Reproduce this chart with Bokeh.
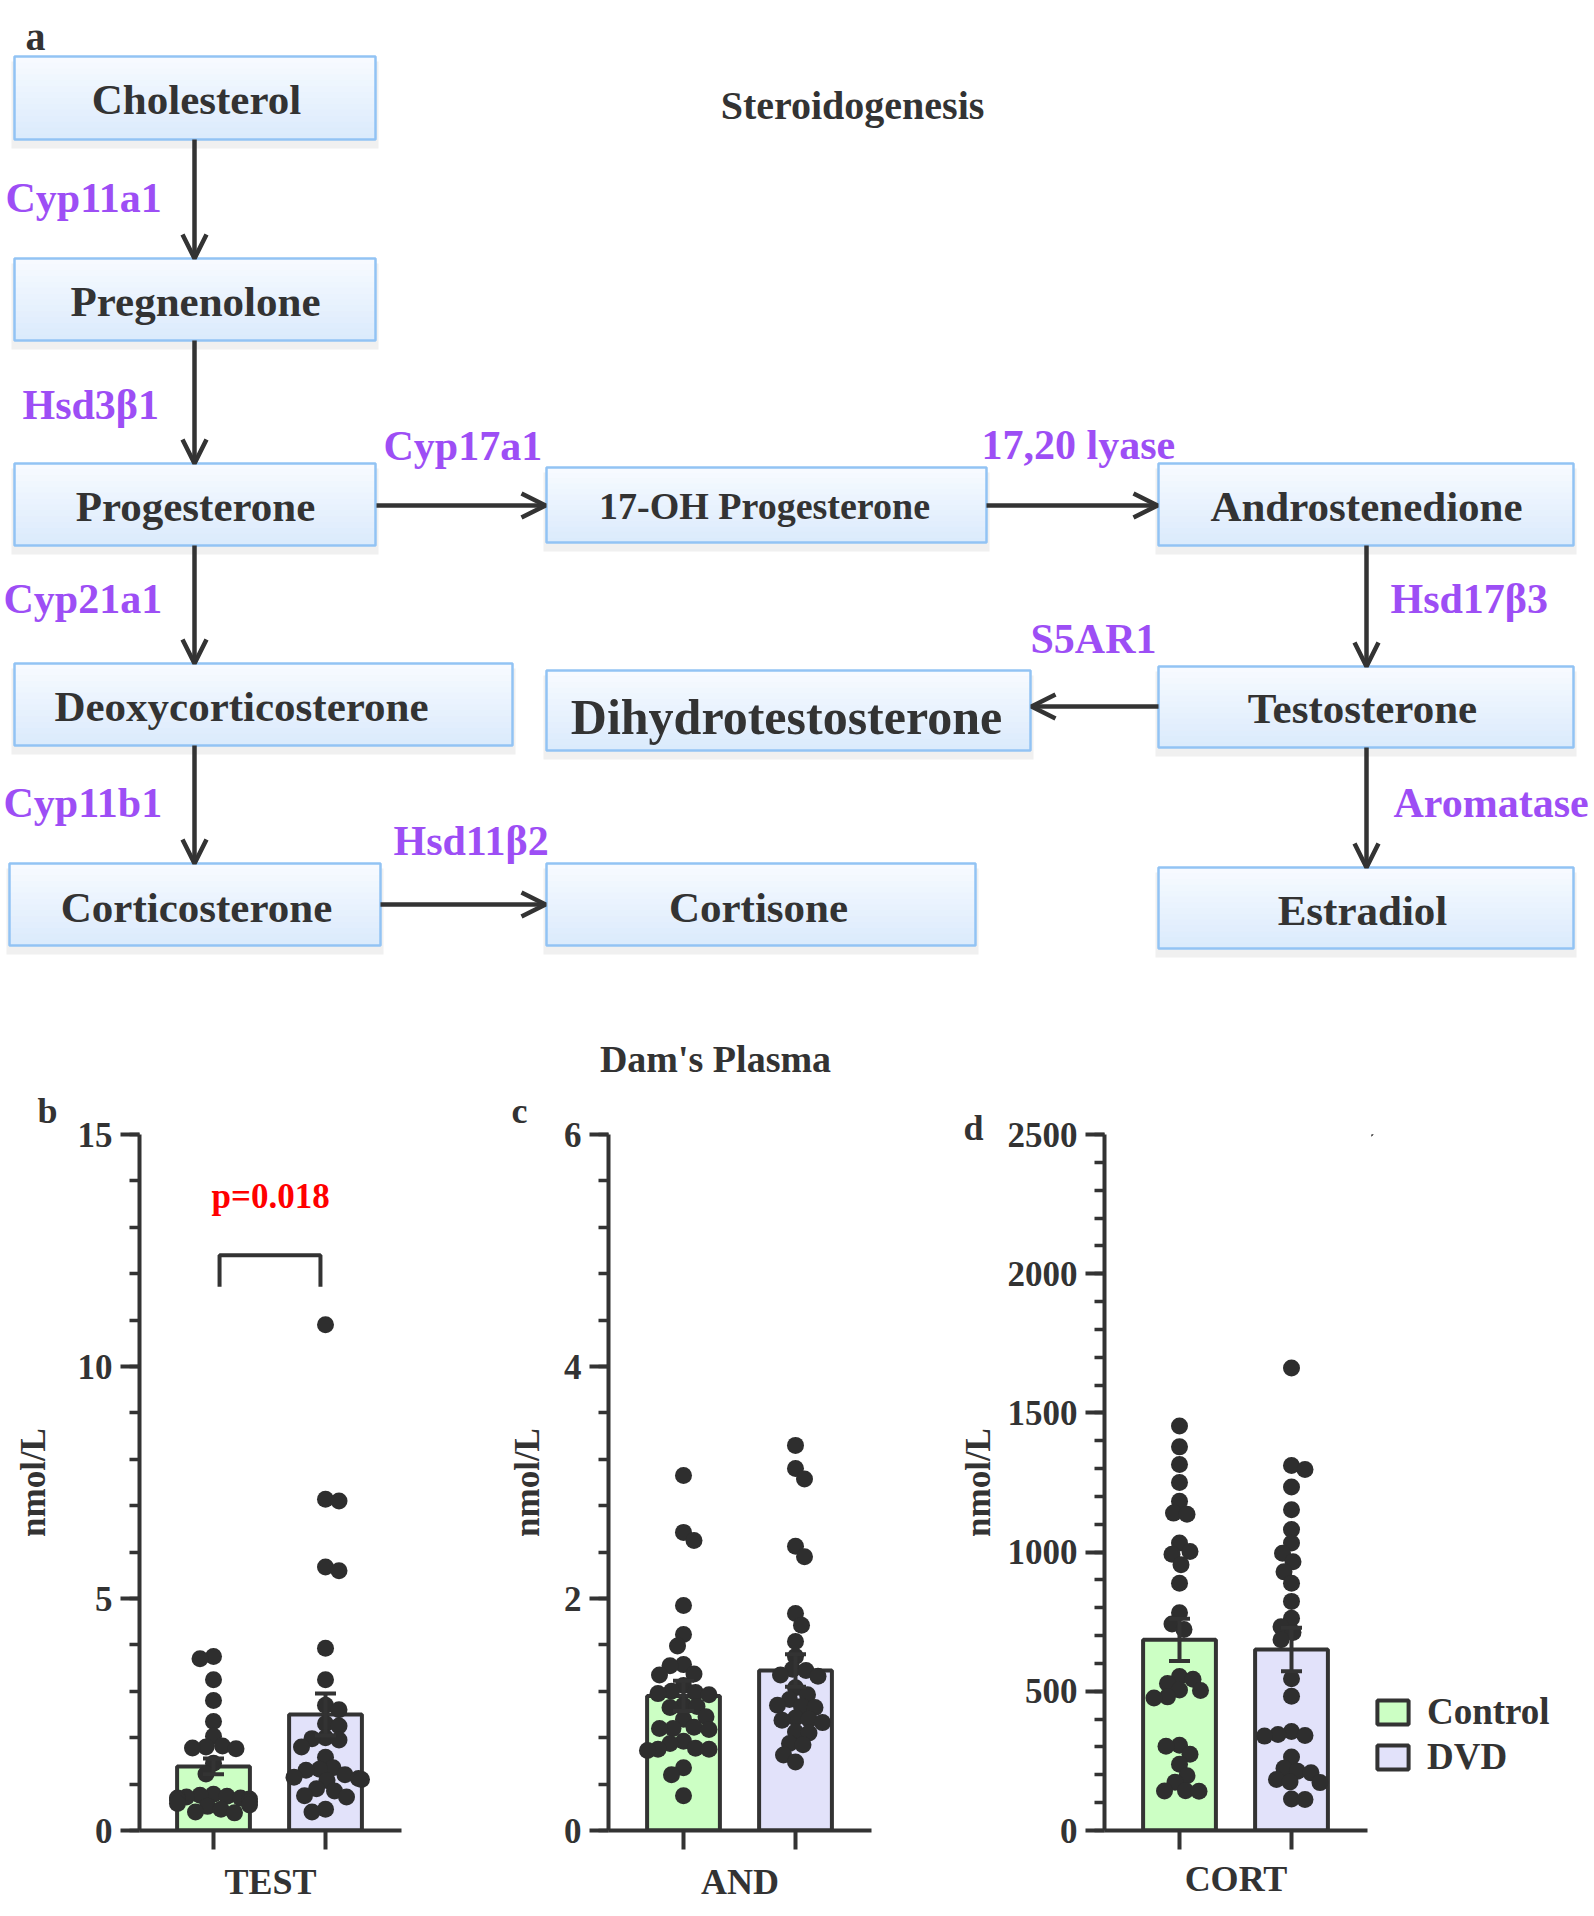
import numpy as np
from bokeh.plotting import figure
from bokeh.models import (Range1d, ColumnDataSource, Arrow, OpenHead, Label, Whisker,
                          TeeHead, FixedTicker, CustomJSTickFormatter, Legend, LegendItem)
from bokeh.layouts import column, row
from bokeh.embed import file_html
from bokeh.resources import INLINE
from bokeh.core.properties import value

# ------------------------------------------------------------------ data
groups = ["Control", "DVD"]
group_colors = ["#CCFFC4", "#E2E2FA"]

test_control = [3.75, 3.70, 3.25, 2.80, 2.35, 2.03, 1.82, 1.80, 1.78, 1.76, 1.45, 1.22,
                0.78, 0.76, 0.74, 0.72, 0.70, 0.70, 0.68, 0.66, 0.62, 0.58, 0.55, 0.52,
                0.46, 0.40, 0.38]
test_dvd = [10.9, 7.14, 7.10, 5.68, 5.60, 3.93, 3.25, 2.70, 2.60, 2.30, 2.25, 2.00, 1.98,
            1.95, 1.80, 1.58, 1.35, 1.32, 1.30, 1.20, 1.15, 1.12, 1.10, 1.08, 0.90, 0.85,
            0.75, 0.72, 0.46, 0.40]
test_mean = [1.38, 2.50]
test_sem = [0.17, 0.45]
test_ticks = [0, 5, 10, 15]

and_control = [3.06, 2.57, 2.50, 1.94, 1.69, 1.59, 1.43, 1.42, 1.35, 1.34, 1.25, 1.20,
               1.19, 1.18, 1.17, 1.08, 1.07, 1.06, 0.98, 0.96, 0.89, 0.88, 0.88, 0.87,
               0.77, 0.75, 0.71, 0.70, 0.70, 0.69, 0.54, 0.48, 0.30]
and_dvd = [3.32, 3.12, 3.03, 2.45, 2.36, 1.87, 1.77, 1.63, 1.50, 1.39, 1.38, 1.34, 1.33,
           1.23, 1.17, 1.13, 1.08, 1.07, 1.06, 0.97, 0.96, 0.95, 0.93, 0.85, 0.84, 0.75,
           0.74, 0.65, 0.59]
and_mean = [1.16, 1.38]
and_sem = [0.13, 0.14]
and_ticks = [0, 2, 4, 6]

cort_control = [1453, 1378, 1315, 1250, 1183, 1140, 1136, 1033, 1002, 992, 955, 888, 782,
                742, 722, 553, 543, 528, 505, 503, 480, 476, 306, 303, 274, 238, 197, 173,
                143, 142, 141]
cort_dvd = [1661, 1311, 1297, 1234, 1152, 1081, 1033, 996, 965, 929, 888, 823, 762, 732,
            711, 685, 545, 482, 356, 345, 341, 339, 264, 224, 213, 207, 183, 174, 172, 113,
            111]
cort_mean = [685, 650]
cort_sem = [76, 78]
cort_ticks = [0, 500, 1000, 1500, 2000, 2500]

p_text = "p=0.018"
bracket_x = [0.054, 0.054, 0.955, 0.955]
bracket_y = [11.72, 12.40, 12.40, 11.72]

# ------------------------------------------------------------------ diagram content
# name, x0, x1, y0, y1, text x, text y, font px
boxes = [
    ("Cholesterol", 14, 375, 56, 139, 196, 99, 43),
    ("Pregnenolone", 14, 375, 258, 340, 195, 301, 43),
    ("Progesterone", 14, 375, 463, 545, 195, 506, 43),
    ("17-OH Progesterone", 546, 986, 467, 542, 764, 505, 38),
    ("Androstenedione", 1158, 1573, 463, 545, 1366, 506, 43),
    ("Deoxycorticosterone", 14, 512, 663, 745, 241, 706, 43),
    ("Dihydrotestosterone", 546, 1030, 670, 750, 786, 716, 50),
    ("Testosterone", 1158, 1573, 666, 747, 1362, 708, 43),
    ("Corticosterone", 9, 380, 863, 945, 196, 907, 43),
    ("Cortisone", 546, 975, 863, 945, 758, 907, 43),
    ("Estradiol", 1158, 1573, 867, 948, 1362, 910, 43),
]
enzymes = [
    ("Cyp11a1", 5, 197), ("Hsd3β1", 22, 404), ("Cyp17a1", 383, 445),
    ("17,20 lyase", 981, 444), ("Cyp21a1", 3, 598), ("Hsd17β3", 1390, 598),
    ("S5AR1", 1030, 638), ("Cyp11b1", 3, 802), ("Aromatase", 1393, 802),
    ("Hsd11β2", 393, 840),
]
arrows = [  # x_start, y_start, x_end, y_end
    (194, 139, 194, 258), (194, 340, 194, 463), (376, 505, 545, 505),
    (986, 505, 1157, 505), (194, 545, 194, 663), (194, 745, 194, 863),
    (380, 904, 545, 904), (1366, 545, 1366, 666), (1158, 706, 1031, 706),
    (1366, 747, 1366, 867),
]

FONT = "Liberation Serif"
INK = "#333333"
PURPLE = "#9D4EF5"

PAGE_W = 1594
DIA_H = 1084
dia = figure(width=PAGE_W, height=DIA_H, x_range=Range1d(0, PAGE_W), y_range=Range1d(DIA_H, 0),
             output_backend="svg", toolbar_location=None, min_border=0,
             x_axis_location=None, y_axis_location=None)
dia.grid.visible = False
dia.outline_line_color = None
dia.background_fill_color = "white"
dia.border_fill_color = "white"

# shadows
dia.quad(left=[b[1] - 3 for b in boxes], right=[b[2] + 3 for b in boxes],
         top=[b[3] + 5 for b in boxes], bottom=[b[4] + 9 for b in boxes],
         fill_color="#F0F0F0", line_color=None)
# gradient fill
NB = 14
top_c = np.array([248, 251, 255.0])
bot_c = np.array([218, 234, 252.0])
L, R, T, B, C = [], [], [], [], []
for b in boxes:
    x0, x1, y0, y1 = b[1], b[2], b[3], b[4]
    for k in range(NB):
        t = (k + 0.5) / NB
        c = top_c * (1 - t) + bot_c * t
        L.append(x0); R.append(x1)
        T.append(y0 + (y1 - y0) * k / NB)
        B.append(min(y1, y0 + (y1 - y0) * (k + 1) / NB + 0.6))
        C.append("#%02x%02x%02x" % tuple(int(round(v)) for v in c))
dia.quad(left=L, right=R, top=T, bottom=B, fill_color=C, line_color=None)
dia.quad(left=[b[1] for b in boxes], right=[b[2] for b in boxes],
         top=[b[3] for b in boxes], bottom=[b[4] for b in boxes],
         fill_color=None, line_color="#92C3F4", line_width=2.5)

box_src = ColumnDataSource(dict(x=[b[5] for b in boxes], y=[b[6] for b in boxes],
                                t=[b[0] for b in boxes], fs=["%dpx" % b[7] for b in boxes]))
dia.text(x="x", y="y", text="t", text_font_size="fs", source=box_src,
         text_font=value(FONT), text_font_style="bold", text_color=INK,
         text_align="center", text_baseline="middle")

enz_src = ColumnDataSource(dict(x=[e[1] for e in enzymes], y=[e[2] for e in enzymes],
                                t=[e[0] for e in enzymes]))
dia.text(x="x", y="y", text="t", source=enz_src, text_font_size="42px",
         text_font=value(FONT), text_font_style="bold", text_color=PURPLE,
         text_align="left", text_baseline="middle")

arr_src = ColumnDataSource(dict(x0=[a[0] for a in arrows], y0=[a[1] for a in arrows],
                                x1=[a[2] for a in arrows], y1=[a[3] for a in arrows]))
dia.add_layout(Arrow(end=OpenHead(size=24, line_width=4.5, line_color=INK),
                     x_start="x0", y_start="y0", x_end="x1", y_end="y1", source=arr_src,
                     line_width=4.5, line_color=INK))

dia.text(x=[852], y=[105], text=["Steroidogenesis"], text_font_size="40px",
         text_font=value(FONT), text_font_style="bold", text_color=INK,
         text_align="center", text_baseline="middle")
dia.text(x=[715], y=[1058], text=["Dam's Plasma"], text_font_size="38px",
         text_font=value(FONT), text_font_style="bold", text_color=INK,
         text_align="center", text_baseline="middle")
dia.text(x=[25], y=[36], text=["a"], text_font_size="40px",
         text_font=value(FONT), text_font_style="bold", text_color=INK,
         text_align="left", text_baseline="alphabetic")


# ------------------------------------------------------------------ charts
def swarm(vals, yppu, dot=13.0, step=1.5, limit=40.0):
    vals = np.asarray(vals, dtype=float)
    order = np.argsort(-vals)
    placed = []
    offs = np.zeros(len(vals))
    for n, i in enumerate(order):
        y = vals[i] * yppu
        k = 0
        chosen = None
        while chosen is None:
            if k == 0:
                cands = [0.0]
            else:
                cands = [k * step, -k * step] if n % 2 == 0 else [-k * step, k * step]
            for c in cands:
                if all((c - px) ** 2 + (y - py) ** 2 >= dot ** 2 for px, py in placed):
                    chosen = c
                    break
            k += 1
            if k * step > limit:
                chosen = (limit if n % 2 == 0 else -limit) * 0.9
        placed.append((chosen, y))
        offs[i] = chosen
    return offs


CAT_GAP = 112.0
ROW_TOP = DIA_H
ROW_BOTTOM = 1912
ROW_H = ROW_BOTTOM - ROW_TOP
TOP = 1134 - ROW_TOP


def chart(ml, mr, frame_l, frame_r, frame_b, cat0, ymax, ticks, minor_step, yl_standoff,
          xlabel, series, means, sems, xl_standoff, letter, letter_x, letter_standoff):
    fw = frame_r - frame_l
    mb = ROW_BOTTOM - frame_b
    fh = ROW_H - TOP - mb
    xs = -(cat0 - frame_l) / CAT_GAP
    xe = xs + fw / CAT_GAP
    width = ml + fw + mr
    p = figure(width=width, height=ROW_H, x_range=Range1d(xs, xe), y_range=Range1d(0, ymax),
               min_border_left=ml, min_border_right=mr, min_border_top=TOP,
               min_border_bottom=mb, output_backend="svg", toolbar_location=None,
               title=letter)
    p.grid.visible = False
    p.outline_line_color = None
    p.background_fill_color = "white"
    p.border_fill_color = "white"

    p.title.align = "left"
    p.title.offset = letter_x - frame_l - 5
    p.title.text_font = FONT
    p.title.text_font_style = "bold"
    p.title.text_font_size = "36px"
    p.title.text_color = INK
    try:
        p.title.standoff = letter_standoff
    except Exception:
        p.title.standoff = 0

    ya = p.yaxis[0]
    ya.ticker = FixedTicker(ticks=ticks,
                            minor_ticks=[float(v) for v in np.arange(0, ymax + 1e-9, minor_step)])
    ya.axis_line_width = 4
    ya.axis_line_color = INK
    ya.major_tick_line_width = 4
    ya.major_tick_line_color = INK
    ya.minor_tick_line_width = 3.5
    ya.minor_tick_line_color = INK
    ya.major_tick_out = 19
    ya.major_tick_in = 0
    ya.minor_tick_out = 10
    ya.minor_tick_in = 0
    ya.major_label_text_font = FONT
    ya.major_label_text_font_style = "bold"
    ya.major_label_text_font_size = "35px"
    ya.major_label_text_color = INK
    ya.major_label_standoff = 8
    ya.axis_label = "nmol/L"
    ya.axis_label_text_font = FONT
    ya.axis_label_text_font_style = "bold"
    ya.axis_label_text_font_size = "35px"
    ya.axis_label_text_color = INK
    ya.axis_label_standoff = yl_standoff

    xa = p.xaxis[0]
    xa.ticker = FixedTicker(ticks=[0, 1], minor_ticks=[])
    xa.formatter = CustomJSTickFormatter(code="return ''")
    xa.axis_line_width = 4
    xa.axis_line_color = INK
    xa.major_tick_line_width = 4
    xa.major_tick_line_color = INK
    xa.major_tick_out = 19
    xa.major_tick_in = 0
    xa.major_label_standoff = 0
    xa.major_label_text_font_size = "1px"
    xa.axis_label = xlabel
    xa.axis_label_text_font = FONT
    xa.axis_label_text_font_style = "bold"
    xa.axis_label_text_font_size = "36px"
    xa.axis_label_text_color = INK
    xa.axis_label_standoff = xl_standoff

    bsrc = ColumnDataSource(dict(x=[0, 1], m=means, c=group_colors, g=groups,
                                 up=[m + s for m, s in zip(means, sems)],
                                 lo=[m - s for m, s in zip(means, sems)]))
    p.vbar(x="x", top="m", width=0.65, fill_color="c", line_color=INK, line_width=4,
           source=bsrc)

    yppu = fh / ymax
    dx, dy = [], []
    for gi, vals in enumerate(series):
        offs = swarm(vals, yppu)
        dx += list(gi + offs / CAT_GAP)
        dy += list(vals)
    p.scatter(x=dx, y=dy, size=17, marker="circle", fill_color="#2E2E2E", line_color=None)

    p.add_layout(Whisker(source=bsrc, base="x", upper="up", lower="lo", dimension="height",
                         line_width=4, line_color=INK, level="overlay",
                         upper_head=TeeHead(size=21, line_width=4, line_color=INK),
                         lower_head=TeeHead(size=21, line_width=4, line_color=INK)))
    return p, bsrc


# b: TEST   (page x 0-500)
pb, _ = chart(139, 99, 139, 401, 1830, 213, 15, test_ticks, 1, 22, "TEST",
              [test_control, test_dvd], test_mean, test_sem, 12, "b", 42, 7)
pb.line(x=bracket_x, y=bracket_y, line_width=4, line_color=INK)
pb.add_layout(Label(x=0.51, y=13.66, text=p_text, text_font=FONT, text_font_style="bold",
                    text_font_size="35px", text_color="#FF0000", text_align="center",
                    text_baseline="middle"))

# c: AND   (page x 500-950)
pc, _ = chart(108, 79, 608, 871, 1831, 683, 6, and_ticks, 0.4, 14, "AND",
              [and_control, and_dvd], and_mean, and_sem, 12, "c", 516, 7)

# d: CORT   (page x 950-1371)
pd_, bsrc_d = chart(154, 4, 1104, 1367, 1836, 1179, 2500, cort_ticks, 100, 7, "CORT",
                    [cort_control, cort_dvd], cort_mean, cort_sem, 9, "d", 968, -26)

# legend panel (page x 1371-1594), sharing the CORT bar source
LEG_L = 1371
pl = figure(width=PAGE_W - LEG_L, height=ROW_H, x_range=Range1d(100, 101),
            y_range=Range1d(-2, -1), min_border=0, x_axis_location=None,
            y_axis_location=None, output_backend="svg", toolbar_location=None)
pl.grid.visible = False
pl.outline_line_color = None
pl.background_fill_color = "white"
pl.border_fill_color = "white"
lr = pl.vbar(x="x", top="m", width=0.65, fill_color="c", line_color=INK, line_width=4,
             source=bsrc_d)
items = [LegendItem(label=g, renderers=[lr], index=i) for i, g in enumerate(groups)]
lg = Legend(items=items, location=(1373 - LEG_L, 52), orientation="vertical",
            glyph_width=39, glyph_height=30, label_height=30, label_standoff=15,
            spacing=2, padding=0, margin=0, border_line_color=None,
            background_fill_alpha=0, label_text_font=FONT,
            label_text_font_style="bold", label_text_font_size="37px",
            label_text_color=INK)
pl.add_layout(lg)

layout = column(dia, row(pb, pc, pd_, pl, spacing=0), spacing=0)
with open("out.html", "w", encoding="utf-8") as f:
    f.write(file_html(layout, INLINE))
